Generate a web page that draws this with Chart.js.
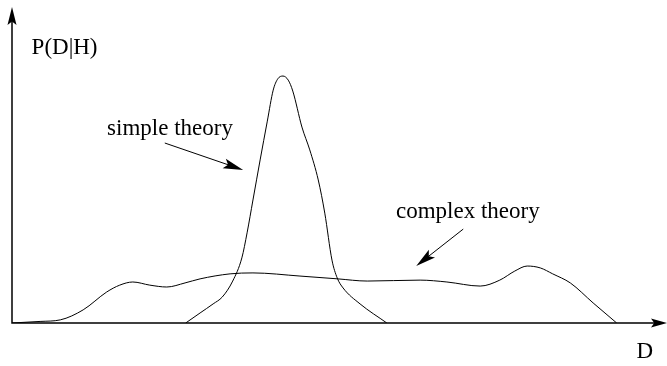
<!DOCTYPE html>
<html>
<head>
<meta charset="utf-8">
<script src="https://cdn.jsdelivr.net/npm/chart.js@4"></script>
<style>
  html, body { margin: 0; padding: 0; background: #fff; }
  #wrap { width: 667px; height: 366px; }
</style>
</head>
<body>
<div id="wrap"><canvas id="chart"></canvas></div>
<script>
// simple theory: narrow tall peak
const simple_d = [2.66, 2.88, 3.08, 3.22, 3.38, 3.52, 3.60, 3.69, 3.80, 3.91, 4.00, 4.07, 4.15, 4.23, 4.30, 4.44, 4.56, 4.69, 4.79, 4.90, 4.98, 5.07, 5.33, 5.74]
const simple_p = [0, 0.032, 0.061, 0.083, 0.134, 0.208, 0.288, 0.393, 0.521, 0.645, 0.744, 0.780, 0.789, 0.776, 0.741, 0.626, 0.553, 0.457, 0.351, 0.201, 0.144, 0.112, 0.061, 0]

// complex theory: broad low curve
const complex_d = [0, 0.43, 0.74, 1.09, 1.45, 1.65, 1.85, 2.11, 2.37, 2.65, 2.88, 3.34, 3.69, 4.41, 4.99, 5.44, 6.25, 6.66, 7.17, 7.47, 7.70, 7.89, 8.09, 8.28, 8.55, 8.90, 9.26]
const complex_p = [0, 0.005, 0.010, 0.042, 0.099, 0.121, 0.131, 0.121, 0.115, 0.128, 0.141, 0.157, 0.160, 0.150, 0.141, 0.134, 0.137, 0.131, 0.118, 0.137, 0.166, 0.182, 0.176, 0.157, 0.128, 0.064, 0]

// text labels and annotation arrows, in data units
const labels = [
    { text: 'P(D|H)', d: 0.30, p: 0.879, align: 'left' },
    { text: 'D', d: 9.69, p: -0.093, align: 'center' },
    { text: 'simple theory', d: 2.42, p: 0.62, align: 'center' },
    { text: 'complex theory', d: 6.98, p: 0.355, align: 'center' },
]
const arrows = [
    { from: [2.34, 0.575], to: [3.54, 0.489] },
    { from: [6.91, 0.30], to: [6.19, 0.182] },
]

const toPoints = (xs, ys) => xs.map((x, i) => ({ x: x, y: ys[i] }))

function arrowHead(ctx, x1, y1, x2, y2, len, half) {
    let a = Math.atan2(y2 - y1, x2 - x1)
    ctx.beginPath()
    ctx.moveTo(x2, y2)
    ctx.lineTo(x2 - len * Math.cos(a) + half * Math.sin(a), y2 - len * Math.sin(a) - half * Math.cos(a))
    ctx.lineTo(x2 - len * 0.8 * Math.cos(a), y2 - len * 0.8 * Math.sin(a))
    ctx.lineTo(x2 - len * Math.cos(a) - half * Math.sin(a), y2 - len * Math.sin(a) + half * Math.cos(a))
    ctx.closePath()
    ctx.fill()
}

const decor = {
    id: 'decor',
    afterDraw(chart) {
        const ctx = chart.ctx
        const xs = chart.scales.x
        const ys = chart.scales.y
        const area = chart.chartArea
        ctx.save()
        ctx.strokeStyle = '#000'
        ctx.fillStyle = '#000'

        // axes
        ctx.lineWidth = 1.5
        ctx.beginPath()
        ctx.moveTo(area.left, area.top + 10)
        ctx.lineTo(area.left, area.bottom)
        ctx.lineTo(area.right - 8, area.bottom)
        ctx.stroke()
        arrowHead(ctx, area.left, area.bottom, area.left, area.top - 3, 18, 4.5)
        arrowHead(ctx, area.left, area.bottom, area.right + 2, area.bottom, 16, 4.5)

        // annotation arrows
        ctx.lineWidth = 1
        arrows.forEach(a => {
            let x1 = xs.getPixelForValue(a.from[0]), y1 = ys.getPixelForValue(a.from[1])
            let x2 = xs.getPixelForValue(a.to[0]),   y2 = ys.getPixelForValue(a.to[1])
            let ang = Math.atan2(y2 - y1, x2 - x1)
            ctx.beginPath()
            ctx.moveTo(x1, y1)
            ctx.lineTo(x2 - 10 * Math.cos(ang), y2 - 10 * Math.sin(ang))
            ctx.stroke()
            arrowHead(ctx, x1, y1, x2, y2, 20, 5)
        })

        // text
        ctx.font = '23px "Liberation Serif", "Times New Roman", serif'
        ctx.textBaseline = 'middle'
        labels.forEach(l => {
            ctx.textAlign = l.align
            ctx.fillText(l.text, xs.getPixelForValue(l.d), ys.getPixelForValue(l.p))
        })
        ctx.restore()
    }
}

new Chart(document.getElementById('chart'), {
    type: 'line',
    data: {
        datasets: [{
            label: 'simple theory',
            data: toPoints(simple_d, simple_p),
            borderColor: '#000',
            borderWidth: 1,
            pointRadius: 0,
            cubicInterpolationMode: 'monotone',
            fill: false
        }, {
            label: 'complex theory',
            data: toPoints(complex_d, complex_p),
            borderColor: '#000',
            borderWidth: 1,
            pointRadius: 0,
            cubicInterpolationMode: 'monotone',
            fill: false
        }]
    },
    options: {
        responsive: true,
        maintainAspectRatio: false,
        animation: false,
        layout: { padding: { left: 12, right: 2, top: 10, bottom: 43 } },
        plugins: { legend: { display: false }, tooltip: { enabled: false } },
        scales: {
            x: { type: 'linear', min: 0, max: 10, display: false },
            y: { type: 'linear', min: 0, max: 1, display: false }
        }
    },
    plugins: [decor]
})
</script>
</body>
</html>
